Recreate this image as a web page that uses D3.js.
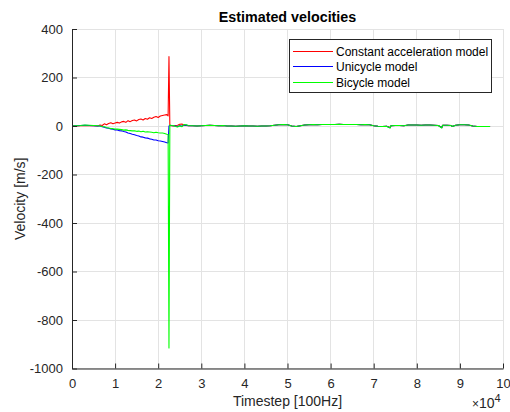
<!DOCTYPE html>
<html>
<head>
<meta charset="utf-8">
<script src="https://cdn.jsdelivr.net/npm/d3@7/dist/d3.min.js"></script>
<style>
  html, body { margin: 0; padding: 0; background: #ffffff; }
  svg { display: block; font-family: "Liberation Sans", Arial, Helvetica, sans-serif; }
</style>
</head>
<body>
<svg id="chart" width="510" height="412"></svg>
<script>
// Sample positions (timesteps at 100 Hz)
const timesteps = [
  0, 1000, 2000, 3000, 4000, 5000, 6000,
  6500, 7000, 7500, 8000, 8500, 9000, 9500, 10000, 10500, 11000,
  11500, 12000, 12500, 13000, 13500, 14000, 14500, 15000, 15500, 16000,
  16500, 17000, 17500, 18000, 18500, 19000, 19500, 20000, 20500, 21000,
  21500, 22000,
  22300, 22500, 22700,
  23000, 23500, 24000, 24500, 25000, 25500, 26000, 26500, 27000,
  28000, 29000, 30000, 31000, 32000, 33000, 34000, 35000, 36000, 37000,
  38000, 39000, 40000, 41000, 42000, 43000, 44000, 45000, 46000, 47000,
  48000, 49000, 50000, 51000, 52000, 53000, 54000, 55000, 56000, 57000,
  58000, 59000, 60000, 61000, 62000, 63000, 64000, 65000, 66000, 67000,
  68000, 69000, 70000, 71000, 72000, 73000,
  73800,
  74000, 75000, 76000, 77000, 78000, 79000, 80000, 81000, 82000, 83000, 84000, 85000,
  85800,
  86000, 87000, 88000,
  88200,
  89000, 90000, 91000, 92000, 93000, 94000, 95000, 96000, 97000
];

// Constant acceleration model velocity [m/s]
const constAccel = [
  0, 0, 1, 2, 1, 1, 0,
  4, 2, 9, 5, 10, 13, 9, 12, 15, 12,
  17, 19, 15, 22, 18, 23, 25, 21, 27, 29,
  25, 31, 28, 34, 31, 36, 39, 35, 41, 43,
  45, 47,
  42, 286, 2,
  1, 0, 2, 3, 7, 8, 3, 2, 1,
  1, 0, 1, 2, 3, 2, 1, 2, 0, 0,
  -1, 0, 1, 0, 0, -1, 0, 0, 1, 3,
  5, 6, 5, 0, -2, 1, 4, 5, 6, 5,
  6, 6, 6, 6, 7, 6, 6, 6, 6, 5,
  6, 5, 1, -1, -2, -1,
  -6,
  1, 2, 2, 1, 4, 4, 4, 3, 4, 4, 3, 2,
  -6,
  3, 3, 2,
  -2,
  3, 5, 5, 4, 0, -2, -2, -2, -2
];

// Unicycle model velocity [m/s]
const unicycle = [
  0, 1, 2, 3, 2, 1, 0,
  0, -3, -5, -8, -9, -12, -13, -16, -16, -19,
  -20, -23, -25, -29, -31, -34, -36, -39, -41, -45,
  -46, -49, -50, -53, -55, -58, -58, -61, -62, -64,
  -66, -69,
  -70, 0, 2,
  2, 1, 0, -2, 1, 0, 3, 4, 1,
  1, 0, 1, 2, 3, 2, 1, 2, 0, 0,
  -1, 0, 1, 0, 0, -1, 0, 0, 1, 3,
  5, 6, 5, 0, -2, 1, 4, 5, 6, 5,
  6, 6, 6, 6, 7, 6, 6, 6, 6, 5,
  6, 5, 1, -1, -2, -1,
  -7,
  1, 2, 2, 1, 4, 4, 4, 3, 4, 4, 3, 2,
  -7,
  3, 3, 2,
  -2,
  3, 5, 5, 4, 0, -2, -2, -2, -2
];

// Bicycle model velocity [m/s]
const bicycle = [
  0, 1, 2, 4, 3, 2, 1,
  0, -2, -3, -6, -8, -10, -11, -13, -13, -14,
  -15, -17, -16, -18, -19, -20, -20, -22, -21, -24,
  -22, -25, -24, -25, -26, -28, -26, -28, -29, -29,
  -31, -34,
  -35, -915, 4,
  3, 2, -2, -4, 1, -3, 6, 5, 2,
  1, 0, 1, 2, 3, 2, 1, 2, 0, 0,
  -1, 0, 1, 0, 0, -1, 0, 0, 1, 3,
  5, 6, 5, 0, -2, 1, 4, 5, 6, 5,
  6, 6, 6, 6, 7, 6, 6, 6, 6, 5,
  6, 5, 1, -1, -2, -1,
  -8,
  1, 2, 2, 1, 4, 4, 4, 3, 4, 4, 3, 2,
  -8,
  3, 3, 2,
  -2,
  3, 5, 5, 4, 0, -2, -2, -2, -2
];

const seriesNames = ["Constant acceleration model", "Unicycle model", "Bicycle model"];
const seriesColors = ["#ff0000", "#0000ff", "#00ff00"];
const seriesValues = [constAccel, unicycle, bicycle];

const xTicks = [0, 10000, 20000, 30000, 40000, 50000, 60000, 70000, 80000, 90000, 100000];
const yTicks = [-1000, -800, -600, -400, -200, 0, 200, 400];

const textColor = "#262626";
const gridColor = "#e3e3e3";

const svg = d3.select("#chart");
const plotLeft = 72, plotRight = 503, plotTop = 29, plotBottom = 368.5;

const x = d3.scaleLinear().domain([0, 100000]).range([plotLeft, plotRight]);
const y = d3.scaleLinear().domain([-1000, 400]).range([plotBottom, plotTop]);

// Grid
const grid = svg.append("g");
grid.selectAll("line.gx").data(xTicks).join("line")
  .attr("x1", d => x(d)).attr("x2", d => x(d))
  .attr("y1", plotTop).attr("y2", plotBottom)
  .attr("stroke", gridColor).attr("stroke-width", 1)
  .attr("shape-rendering", "crispEdges");
grid.selectAll("line.gy").data(yTicks).join("line")
  .attr("x1", plotLeft).attr("x2", plotRight)
  .attr("y1", d => y(d)).attr("y2", d => y(d))
  .attr("stroke", gridColor).attr("stroke-width", 1)
  .attr("shape-rendering", "crispEdges");

// Data lines
const line = d3.line()
  .x((d, i) => x(timesteps[i]))
  .y(d => y(d));

seriesValues.forEach((vals, k) => {
  svg.append("path")
    .datum(vals)
    .attr("d", line)
    .attr("fill", "none")
    .attr("stroke", seriesColors[k])
    .attr("stroke-width", 1.1)
    .attr("stroke-linejoin", "round");
});

// Axes with inward ticks
const xAxis = d3.axisBottom(x).tickValues(xTicks)
  .tickFormat(d => String(d / 10000)).tickSizeInner(-5).tickSizeOuter(0).tickPadding(10);
const yAxis = d3.axisLeft(y).tickValues(yTicks)
  .tickFormat(d => String(d)).tickSizeInner(-5).tickSizeOuter(0).tickPadding(9);

const gx = svg.append("g").attr("transform", `translate(0,${plotBottom})`).call(xAxis);
const gy = svg.append("g").attr("transform", `translate(${plotLeft},0)`).call(yAxis);

[gx, gy].forEach(g => {
  g.select(".domain").attr("stroke", textColor).attr("stroke-width", 1);
  g.selectAll(".tick line").attr("stroke", textColor);
  g.selectAll(".tick text")
    .attr("fill", textColor)
    .style("font-family", "'Liberation Sans', Arial, sans-serif")
    .style("font-size", "13px");
});
gx.selectAll(".tick text").attr("dy", "0.71em");

// Title
svg.append("text")
  .attr("x", (plotLeft + plotRight) / 2).attr("y", 22)
  .attr("text-anchor", "middle")
  .attr("font-weight", "bold")
  .attr("font-size", "14.3px")
  .attr("fill", "#000000")
  .text("Estimated velocities");

// Axis labels
svg.append("text")
  .attr("x", (plotLeft + plotRight) / 2).attr("y", 406)
  .attr("text-anchor", "middle")
  .attr("font-size", "14px")
  .attr("fill", textColor)
  .text("Timestep [100Hz]");

svg.append("text")
  .attr("transform", `translate(25,${(plotTop + plotBottom) / 2}) rotate(-90)`)
  .attr("text-anchor", "middle")
  .attr("font-size", "14px")
  .attr("fill", textColor)
  .text("Velocity [m/s]");

// Exponent marker for the x axis
const expo = svg.append("text")
  .attr("x", 472).attr("y", 408)
  .attr("font-size", "14px")
  .attr("fill", textColor);
expo.append("tspan").attr("font-size", "12px").text("\u00d7");
expo.append("tspan").text("10");
expo.append("tspan").attr("font-size", "11px").attr("dy", "-6").text("4");

// Legend
const legend = svg.append("g");
legend.append("rect")
  .attr("x", 289.5).attr("y", 39.5)
  .attr("width", 202).attr("height", 53)
  .attr("fill", "#ffffff")
  .attr("stroke", textColor).attr("stroke-width", 1);

const rowY = [51.5, 66.5, 82.5];
seriesNames.forEach((name, k) => {
  legend.append("line")
    .attr("x1", 293).attr("x2", 333)
    .attr("y1", rowY[k]).attr("y2", rowY[k])
    .attr("stroke", seriesColors[k]).attr("stroke-width", 1);
  legend.append("text")
    .attr("x", 336).attr("y", rowY[k])
    .attr("dy", "0.35em")
    .attr("font-size", "12px")
    .attr("fill", "#000000")
    .text(name);
});
</script>
</body>
</html>
